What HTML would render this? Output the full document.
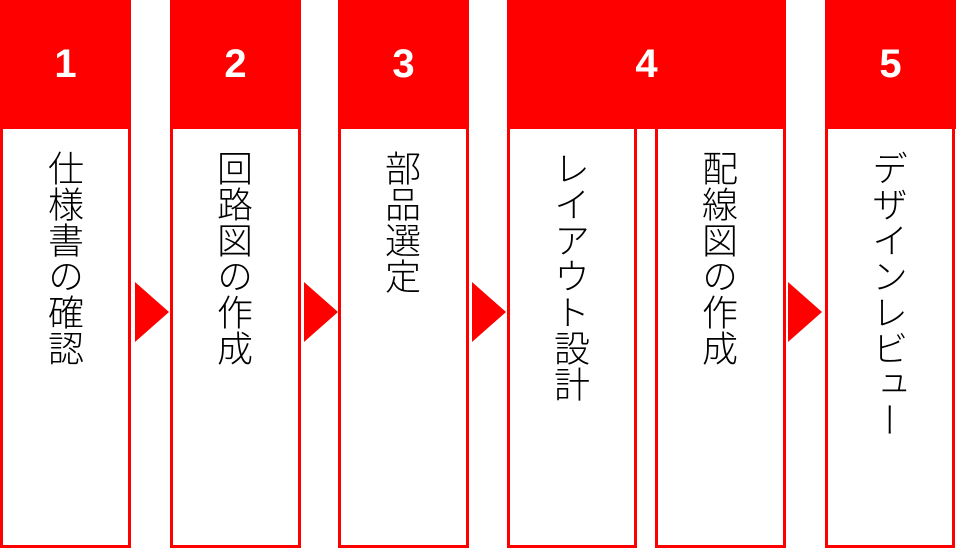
<!DOCTYPE html>
<html><head><meta charset="utf-8"><style>
body{margin:0;width:960px;height:549px;background:#fff;position:relative;overflow:hidden;font-family:"Liberation Sans","Noto Sans CJK JP",sans-serif}
.h{position:absolute;top:0;height:129px;background:#f00;color:#fff;font-weight:bold;font-size:40px;display:flex;align-items:center;justify-content:center;font-family:"Liberation Sans",sans-serif}
.b{position:absolute;top:126px;height:416px;border:3px solid #f00;background:#fff}
.t{position:absolute;top:150px;writing-mode:vertical-rl;font-size:36px;line-height:36px;color:#000;font-family:"Noto Sans CJK JP",sans-serif;font-weight:300}
.a{position:absolute;top:282px;width:0;height:0;border-top:30px solid transparent;border-bottom:30px solid transparent;border-left:34px solid #f00}
</style></head><body>
<div class="b" style="left:0;width:125px"></div>
<div class="b" style="left:170px;width:125px"></div>
<div class="b" style="left:338px;width:125px"></div>
<div class="b" style="left:507px;width:124px"></div>
<div class="b" style="left:655px;width:125px"></div>
<div class="b" style="left:825px;width:124px"></div>
<div class="h" style="left:0;width:131px">1</div>
<div class="h" style="left:170px;width:131px">2</div>
<div class="h" style="left:338px;width:131px">3</div>
<div class="h" style="left:507px;width:279px">4</div>
<div class="h" style="left:825px;width:131px">5</div>
<div class="a" style="left:135px"></div>
<div class="a" style="left:304px"></div>
<div class="a" style="left:472px"></div>
<div class="a" style="left:788px"></div>
<div class="t" style="left:48px">仕様書の確認</div>
<div class="t" style="left:217px">回路図の作成</div>
<div class="t" style="left:385px">部品選定</div>
<div class="t" style="left:554px">レイアウト設計</div>
<div class="t" style="left:702px">配線図の作成</div>
<div class="t" style="left:872px">デザインレビュー</div>
</body></html>
